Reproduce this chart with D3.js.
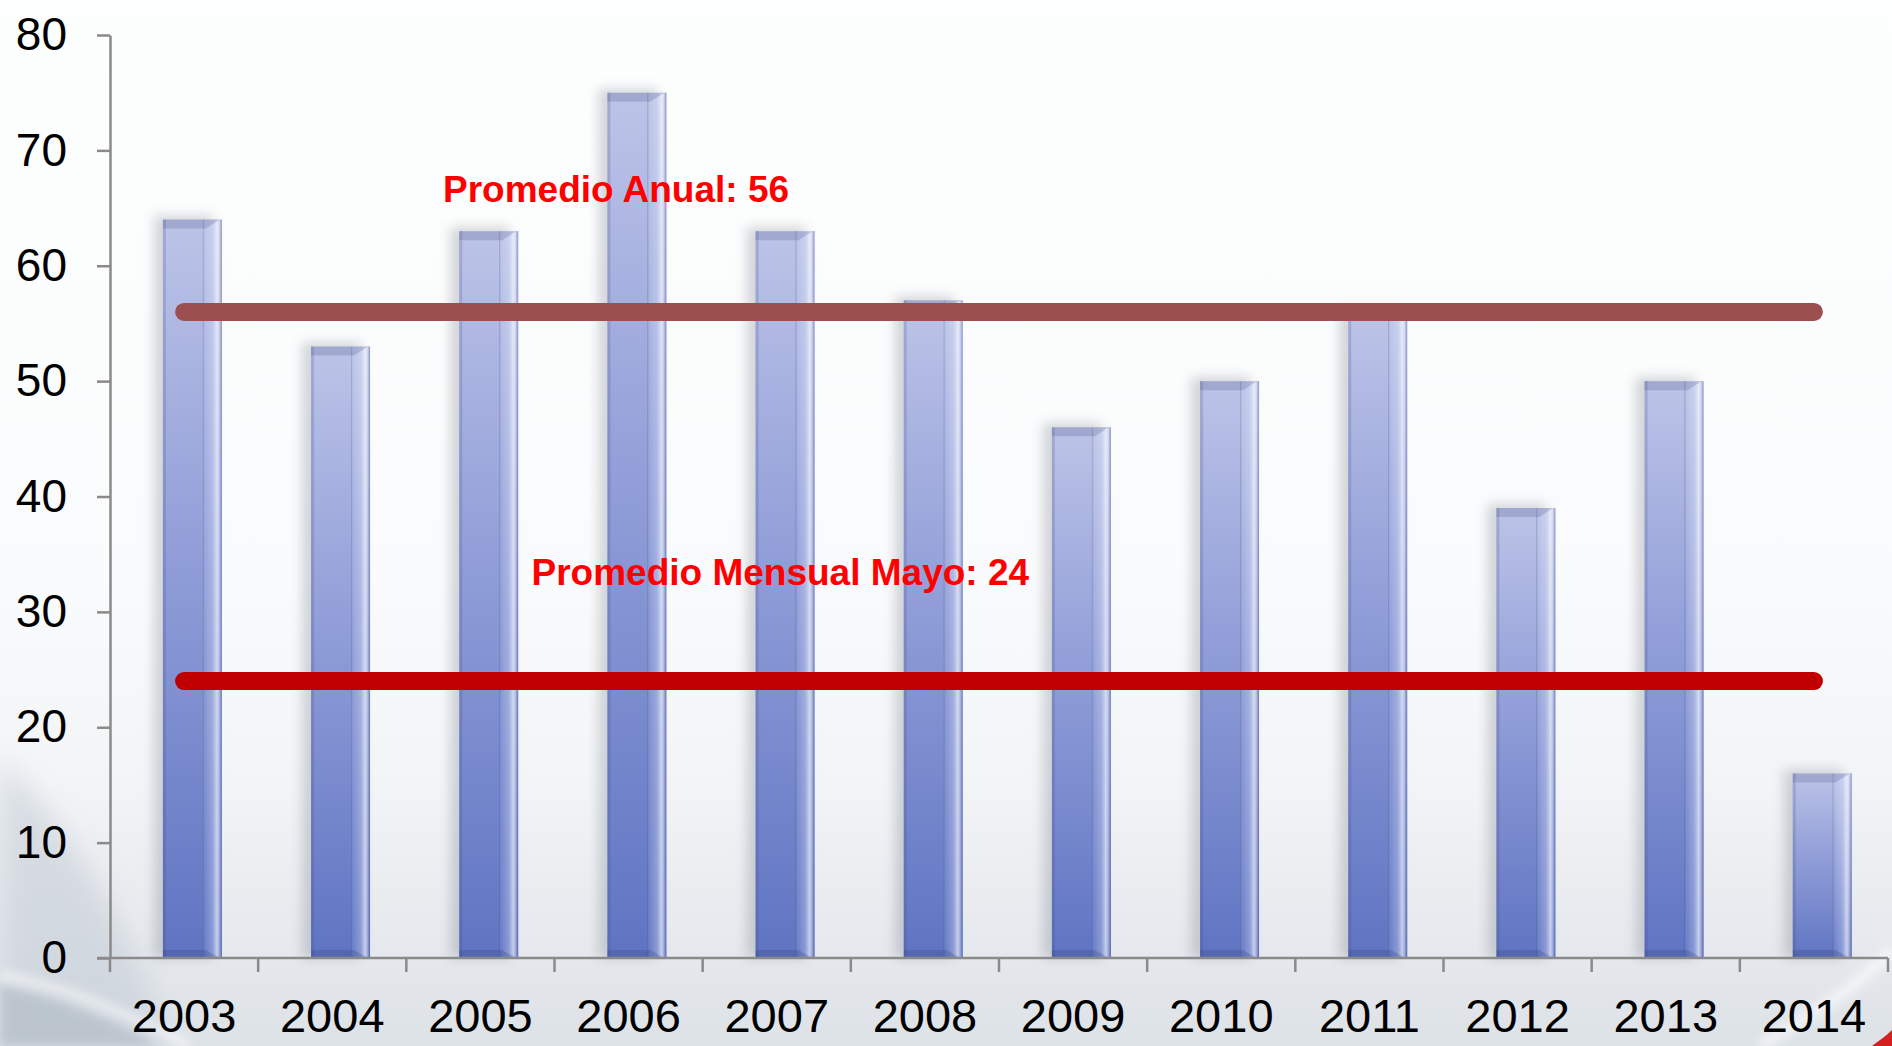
<!DOCTYPE html>
<html>
<head>
<meta charset="utf-8">
<script src="https://cdn.jsdelivr.net/npm/d3@7"></script>
<style>
  html, body { margin: 0; padding: 0; background: #fcfdfe; }
  svg { display: block; }
</style>
</head>
<body>
<script>
// Yearly counts, 2003–2014
const years  = ["2003", "2004", "2005", "2006", "2007", "2008", "2009", "2010", "2011", "2012", "2013", "2014"];
const values = [64, 53, 63, 75, 63, 57, 46, 50, 56, 39, 50, 16];
const yTicks = [0, 10, 20, 30, 40, 50, 60, 70, 80];

// Reference averages drawn as horizontal bands
const annualAverage = 56;
const mayAverage    = 24;
const annualPrefix  = "Promedio Anual: ";
const mayPrefix     = "Promedio Mensual Mayo: ";

const W = 1892, H = 1046;
const FONT = "'Liberation Sans', Arial, Helvetica, sans-serif";

const svg = d3.select("body").append("svg")
  .attr("width", W).attr("height", H)
  .attr("viewBox", `0 0 ${W} ${H}`);

const defs = svg.append("defs");

// ---- background ----
const bg = defs.append("linearGradient").attr("id", "bgGrad")
  .attr("x1", 0).attr("y1", 0).attr("x2", 0).attr("y2", 1);
[[0, "#fdfefe"], [0.55, "#fafbfc"], [0.75, "#f2f4f6"], [0.9, "#e6e9ed"], [1, "#dde2e7"]]
  .forEach(([o, c]) => bg.append("stop").attr("offset", o).attr("stop-color", c));

const soft = defs.append("filter").attr("id", "soft")
  .attr("x", "-20%").attr("y", "-20%").attr("width", "140%").attr("height", "140%");
soft.append("feGaussianBlur").attr("stdDeviation", 14);

const softer = defs.append("filter").attr("id", "softer")
  .attr("x", "-20%").attr("y", "-20%").attr("width", "140%").attr("height", "140%");
softer.append("feGaussianBlur").attr("stdDeviation", 5);

svg.append("rect").attr("width", W).attr("height", H).attr("fill", "url(#bgGrad)");

// swooshes in the lower corners
const deco = svg.append("g");
deco.append("path")
  .attr("d", "M0,760 C60,820 120,900 170,1046 L0,1046 Z")
  .attr("fill", "#c6ced7").attr("opacity", 0.6).attr("filter", "url(#soft)");
deco.append("path")
  .attr("d", "M0,985 C60,1000 110,1020 160,1046 L0,1046 Z")
  .attr("fill", "#b7c1cb").attr("opacity", 0.8).attr("filter", "url(#softer)");
deco.append("path")
  .attr("d", "M0,975 C60,985 120,1010 190,1046")
  .attr("fill", "none").attr("stroke", "#ffffff").attr("stroke-width", 10)
  .attr("opacity", 0.5).attr("filter", "url(#softer)");
deco.append("path")
  .attr("d", "M1760,1046 C1820,1010 1860,985 1892,950")
  .attr("fill", "none").attr("stroke", "#ffffff").attr("stroke-width", 12)
  .attr("opacity", 0.55).attr("filter", "url(#softer)");
deco.append("path")
  .attr("d", "M1872,1046 C1880,1040 1886,1036 1892,1030 L1892,1046 Z")
  .attr("fill", "#d42020");

// ---- scales ----
const x = d3.scaleBand().domain(years).range([110, 1888]).padding(0);
const y = d3.scaleLinear().domain([0, 80]).range([958, 35]);
const bw = x.bandwidth();
const barW = bw * 0.398;
const barOff = bw * 0.357;

// ---- bar paints ----
const body = defs.append("linearGradient").attr("id", "barBody")
  .attr("x1", 0).attr("y1", 0).attr("x2", 0).attr("y2", 1);
[[0, "#bcc4e7"], [0.45, "#919ed8"], [1, "#5f74c2"]]
  .forEach(([o, c]) => body.append("stop").attr("offset", o).attr("stop-color", c));

const bevel = defs.append("linearGradient").attr("id", "barBevel")
  .attr("x1", 0).attr("y1", 0).attr("x2", 1).attr("y2", 0);
[[0, "#2c3a80", 0.3], [0.12, "#e8eeff", 0.1], [0.5, "#e8eeff", 0.3],
 [0.74, "#ffffff", 0.65], [0.86, "#ffffff", 0.4], [1, "#3c4a96", 0.38]]
  .forEach(([o, c, a]) => bevel.append("stop").attr("offset", o)
    .attr("stop-color", c).attr("stop-opacity", a));

const shadowF = defs.append("filter").attr("id", "barShadow")
  .attr("x", "-60%").attr("y", "-10%").attr("width", "220%").attr("height", "120%");
shadowF.append("feGaussianBlur").attr("stdDeviation", 6);

// ---- bars ----
const bars = svg.append("g").selectAll("g.bar")
  .data(years.map((yr, i) => ({ yr, v: values[i] })))
  .join("g").attr("class", "bar");

bars.append("rect")
  .attr("x", d => x(d.yr) + barOff - 9)
  .attr("y", d => y(d.v) - 4)
  .attr("width", barW)
  .attr("height", d => y(0) - y(d.v) + 4)
  .attr("fill", "#7a828e").attr("opacity", 0.32)
  .attr("filter", "url(#barShadow)");

bars.append("rect")
  .attr("x", d => x(d.yr) + barOff)
  .attr("y", d => y(d.v))
  .attr("width", barW)
  .attr("height", d => y(0) - y(d.v))
  .attr("fill", "url(#barBody)");

// left edge
bars.append("rect")
  .attr("x", d => x(d.yr) + barOff)
  .attr("y", d => y(d.v))
  .attr("width", 3)
  .attr("height", d => y(0) - y(d.v))
  .attr("fill", "#3a4688").attr("opacity", 0.2);

// right bevel
bars.append("rect")
  .attr("x", d => x(d.yr) + barOff + barW - 19)
  .attr("y", d => y(d.v))
  .attr("width", 19)
  .attr("height", d => y(0) - y(d.v))
  .attr("fill", "url(#barBevel)");

// top bevel
bars.append("path")
  .attr("d", d => {
    const x0 = x(d.yr) + barOff, t = y(d.v);
    return `M${x0},${t}H${x0 + barW - 2}L${x0 + barW - 16},${t + 9}H${x0}Z`;
  })
  .attr("fill", "#4c5288").attr("opacity", 0.24);

// bottom bevel
bars.append("path")
  .attr("d", d => {
    const x0 = x(d.yr) + barOff, b = y(0);
    return `M${x0},${b}H${x0 + barW - 2}L${x0 + barW - 16},${b - 8}H${x0}Z`;
  })
  .attr("fill", "#2a3678").attr("opacity", 0.22);

// ---- axes ----
const axisColor = "#8a8a8a";

const yAxis = svg.append("g").attr("transform", `translate(${x.range()[0]},0)`)
  .call(d3.axisLeft(y).tickValues(yTicks).tickSize(13).tickPadding(30).tickSizeOuter(0));
yAxis.select(".domain").attr("stroke", axisColor).attr("stroke-width", 2.5);
yAxis.selectAll(".tick line").attr("stroke", axisColor).attr("stroke-width", 2.5);
yAxis.selectAll(".tick text")
  .attr("fill", "#000").style("font-family", FONT).style("font-size", "46px");

const xAxis = svg.append("g");
xAxis.append("line")
  .attr("x1", x.range()[0] - 13).attr("x2", x.range()[1])
  .attr("y1", y(0)).attr("y2", y(0))
  .attr("stroke", axisColor).attr("stroke-width", 2.5);
xAxis.selectAll("line.tick")
  .data(years.map(d => x(d)).concat([x.range()[1]]))
  .join("line").attr("class", "tick")
  .attr("x1", d => d).attr("x2", d => d)
  .attr("y1", y(0)).attr("y2", y(0) + 14)
  .attr("stroke", axisColor).attr("stroke-width", 2.5);
xAxis.selectAll("text")
  .data(years)
  .join("text")
  .attr("x", d => x(d) + bw / 2)
  .attr("y", y(0) + 74)
  .attr("text-anchor", "middle")
  .attr("fill", "#000")
  .style("font-family", FONT).style("font-size", "47px")
  .text(d => d);

// ---- average bands ----
const xFirst = x(years[0]) + bw / 2;
const xLast  = x(years[years.length - 1]) + bw / 2;

const avgs = [
  { v: annualAverage, color: "#9c4f4f", label: annualPrefix + annualAverage, lx: 443, ly: 201.5 },
  { v: mayAverage,    color: "#c00000", label: mayPrefix + mayAverage,      lx: 531.5, ly: 585 }
];

svg.append("g").selectAll("line")
  .data(avgs).join("line")
  .attr("x1", xFirst).attr("x2", xLast)
  .attr("y1", d => y(d.v)).attr("y2", d => y(d.v))
  .attr("stroke", d => d.color)
  .attr("stroke-width", 18)
  .attr("stroke-linecap", "round");

svg.append("g").selectAll("text")
  .data(avgs).join("text")
  .attr("x", d => d.lx).attr("y", d => d.ly)
  .attr("fill", "#ff0000")
  .style("font-family", FONT).style("font-size", "37px").style("font-weight", "bold")
  .text(d => d.label);
</script>
</body>
</html>
